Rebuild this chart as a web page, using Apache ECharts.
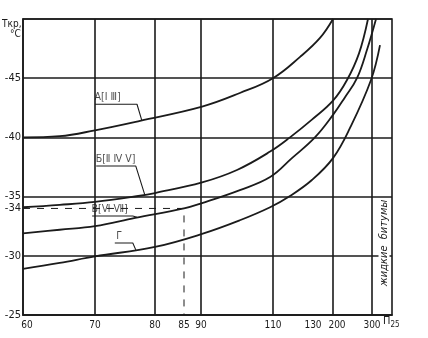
<!DOCTYPE html>
<html><head><meta charset="utf-8">
<script src="https://cdn.jsdelivr.net/npm/echarts@6/dist/echarts.min.js"></script>
<style>html,body{margin:0;padding:0;background:#fff}#c{width:428px;height:338px}</style>
</head><body><div id="c"></div>
<script>
// Nomogram scale of penetration П25: node values and their places along the axis
const penNodes = [60, 70, 80, 85, 90, 110, 130, 200, 300];
const penNodePos = [0, 72, 132, 161, 178, 250, 293, 310, 349];
const axisEnd = 369;
const xTickLabels = ['60', '70', '80', '85', '90', '110', '130', '200', '300'];
const gridPens = [70, 80, 90, 110, 200, 300];
const yTickValues = [-45, -40, -35, -34, -30, -25];

// Brittleness temperature Tкр (°C) against penetration П25 for each bitumen group
const curveA = [[60,-40],[65.1,-40.1],[70,-40.6],[77.5,-41.4],[90.3,-42.6],[100.8,-43.75],[110,-45],[122.6,-46.8],[146.5,-48.4],[200,-50]];
const curveB = [[60,-34.1],[65.1,-34.3],[70,-34.55],[77.2,-35.05],[80,-35.3],[90.3,-36.2],[100,-37.25],[109.2,-38.8],[117.9,-40],[128.1,-41.5],[200,-43.1],[235.9,-44.85],[266.7,-47.1],[289.7,-50]];
const curveV = [[60,-31.9],[65.1,-32.2],[70,-32.5],[76.7,-33.2],[85,-34],[90.3,-34.45],[100.8,-35.55],[109.2,-36.65],[118.8,-38.25],[129.5,-40],[200,-41.9],[230.8,-43.4],[261.5,-45],[287.2,-47.4],[310.3,-50]];
const curveG = [[60,-28.9],[65.1,-29.4],[70,-29.95],[80,-30.75],[90.3,-31.85],[100.8,-33],[109.2,-34.1],[117.9,-35.05],[128.1,-36.4],[200,-38.25],[243.6,-40.8],[297.4,-44.85],[320.5,-47.8]];

// Group labels: text, underline [from pen, to pen, T], leader end on the curve [pen, T]
const groupLabels = ['А[Ⅰ Ⅲ]', 'Б[Ⅱ Ⅳ Ⅴ]', 'В[Ⅵ Ⅶ]', 'Г'];
const labelLines = [[70, 77.0, -42.8], [70.2, 76.8, -37.58], [69.6, 76.3, -33.36], [73.3, 76.3, -31.08]];
const leaderEnds = [[77.8, -41.43], [78.3, -35.15], [77.0, -33.25], [76.8, -30.5]];

// Reading example: П25 = 85 gives Tкр = -34
const readPen = 85;
const readT = -34;

function penToPos(p) {
  const n = penNodes.length;
  let i = 0;
  if (p >= penNodes[n - 1]) i = n - 2;
  else while (i < n - 2 && p > penNodes[i + 1]) i++;
  const t = (p - penNodes[i]) / (penNodes[i + 1] - penNodes[i]);
  return penNodePos[i] + t * (penNodePos[i + 1] - penNodePos[i]);
}
const toXY = pts => pts.map(([p, t]) => [penToPos(p), t]);

const FONT = "'DejaVu Sans Condensed', 'Liberation Sans Narrow', sans-serif";
const INK = '#1b1b1b';

const chart = echarts.init(document.getElementById('c'), null, { renderer: 'canvas' });

const curveSeries = [curveA, curveB, curveV, curveG].map(c => ({
  type: 'line', data: toXY(c), smooth: 0.4, symbol: 'none',
  lineStyle: { color: INK, width: 1.8 }, z: 4
}));

const labelSeries = [];
groupLabels.forEach((txt, i) => {
  const [p1, p2, t] = labelLines[i];
  labelSeries.push({
    type: 'line', symbol: 'none', smooth: false,
    data: toXY([[p1, t], [p2, t], leaderEnds[i]]),
    lineStyle: { color: INK, width: 1.1 }, z: 5
  });
  labelSeries.push({
    type: 'scatter', symbolSize: 1, itemStyle: { color: 'rgba(0,0,0,0)' },
    data: toXY([[p1, t]]),
    label: {
      show: true, formatter: txt, position: [i === 3 ? 2 : 0, -12],
      fontFamily: FONT, fontSize: 10.5, color: INK
    }, z: 6
  });
});

const labelPos = penNodes.map(penToPos);
// small nudges so neighbouring tick labels do not run together
const labelStyleKey = { '60': 'r', '130': 'l', '200': 'r' };

const tickText = { fontFamily: FONT, fontSize: 10, color: INK };

const option = {
  animation: false,
  backgroundColor: '#fff',
  grid: { left: 23, right: 36, top: 19, bottom: 23, show: true, borderColor: INK, borderWidth: 1.6, backgroundColor: 'transparent' },
  xAxis: {
    type: 'value', min: 0, max: axisEnd,
    axisLine: { show: true, lineStyle: { color: INK, width: 1.6 } },
    axisTick: { show: false },
    splitLine: { show: false },
    axisLabel: {
      customValues: labelPos,
      formatter: v => {
        const k = labelPos.findIndex(q => Math.abs(q - v) < 0.01);
        if (k < 0) return '';
        const s = xTickLabels[k];
        const key = labelStyleKey[s];
        return key ? '{' + key + '|' + s + '}' : s;
      },
      rich: {
        r: Object.assign({ padding: [0, 0, 0, 8] }, tickText),
        l: Object.assign({ padding: [0, 6, 0, 0] }, tickText)
      },
      fontFamily: FONT, fontSize: 10, color: INK, margin: 5,
      showMinLabel: true, showMaxLabel: true
    }
  },
  yAxis: {
    type: 'value', inverse: true, min: -50, max: -25, interval: 5,
    axisLine: { show: true, lineStyle: { color: INK, width: 1.6 } },
    axisTick: { show: false },
    splitLine: { show: true, lineStyle: { color: INK, width: 1.6 } },
    axisLabel: {
      customValues: yTickValues,
      formatter: v => String(v),
      fontFamily: FONT, fontSize: 11, color: INK, margin: 2
    }
  },
  series: [
    {
      type: 'line', data: [], symbol: 'none', silent: true,
      markLine: {
        silent: true, symbol: 'none', animation: false,
        label: { show: false },
        lineStyle: { color: INK, width: 1.6, type: 'solid' },
        data: gridPens.map(p => ({ xAxis: penToPos(p) }))
      }
    },
    {
      type: 'line', symbol: 'none', smooth: false,
      data: toXY([[60, readT], [readPen, readT], [readPen, -25]]),
      lineStyle: { color: INK, width: 1, type: [7, 7] }, z: 3
    },
    ...curveSeries,
    ...labelSeries
  ],
  graphic: [
    { type: 'text', left: 2, top: 19, style: { text: 'Tкр,', font: "10px " + FONT, fill: INK } },
    { type: 'text', left: 10, top: 29, style: { text: '°C', font: "10px " + FONT, fill: INK } },
    {
      type: 'text', left: 383, top: 316,
      style: {
        text: '{a|П}{b|25}', fill: INK,
        rich: { a: { fontFamily: FONT, fontSize: 11, color: INK }, b: { fontFamily: FONT, fontSize: 8, color: INK, padding: [7, 0, 0, 0] } }
      }
    },
    {
      type: 'text', x: 384, y: 243, rotation: Math.PI / 2, z: 20,
      style: {
        text: 'жидкие  битумы', font: "italic 11px " + FONT, fill: INK,
        align: 'center', verticalAlign: 'middle',
        backgroundColor: '#fff', padding: [0, 0]
      }
    }
  ]
};
chart.setOption(option);
</script>
</body></html>
